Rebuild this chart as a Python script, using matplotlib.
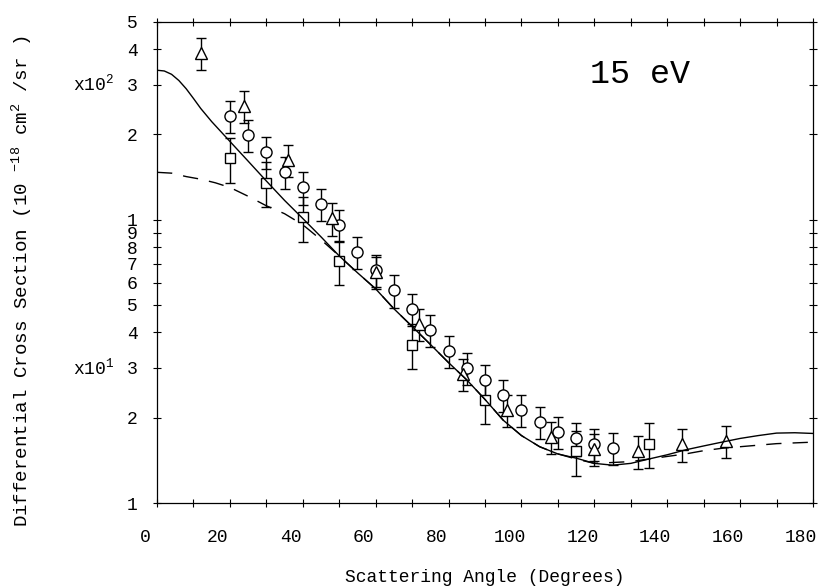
import numpy as np
import matplotlib
matplotlib.use('Agg')
import matplotlib.pyplot as plt
import matplotlib.transforms as mtransforms

plt.rcParams['font.family'] = ['Liberation Mono', 'DejaVu Sans Mono']
plt.rcParams['mathtext.fontset'] = 'custom'
plt.rcParams['mathtext.rm'] = 'Liberation Mono'
plt.rcParams['mathtext.it'] = 'Liberation Mono'
plt.rcParams['mathtext.default'] = 'regular'

# ---- data (units of 10^-18 cm^2/sr) ----
circle_angle = [20, 25, 30, 35, 40, 45, 50, 55, 60, 65, 70, 75, 80, 85, 90, 95, 100, 105, 110, 115, 120, 125]
circle_dcs = [233, 199, 174, 147, 130, 114, 96, 77, 66.5, 56.3, 48.3, 40.7, 34.5, 30.0, 27.2, 24.0, 21.3, 19.3, 17.8, 16.9, 16.2, 15.6]
circle_relerr = [0.13] * len(circle_angle)

triangle_angle = [12, 24, 36, 48, 60, 72, 84, 96, 108, 120, 132, 144, 156]
triangle_dcs = [387, 252, 162, 101, 65.5, 43.0, 28.5, 21.3, 17.1, 15.5, 15.2, 16.1, 16.6]
triangle_relerr = [0.13] * len(triangle_angle)

square_angle = [20, 30, 40, 50, 70, 90, 115, 135]
square_dcs = [165, 135, 102, 71.5, 36.2, 23.1, 15.2, 16.2]
square_relerr = [0.18] * len(square_angle)

solid_angle = [0, 2, 4, 6, 8, 10, 12, 15, 20, 25, 30, 35, 40, 45, 50, 55, 60, 65, 70, 75, 80, 85, 90,
               95, 100, 105, 110, 115, 120, 125, 130, 135, 140, 145, 150, 155, 160, 165, 170, 175, 180]
solid_dcs = [337, 335, 326, 310, 290, 268, 247, 222, 189, 161, 137, 117, 101, 87, 74.5, 65, 57, 48.5, 42, 36.3,
             31.3, 27.2, 23.2, 19.6, 17.3, 15.8, 14.9, 14.4, 13.8, 13.6, 13.8, 14.3, 14.8, 15.4, 15.9, 16.4,
             16.9, 17.3, 17.65, 17.7, 17.6]

dashed_angle = [0, 4, 8, 12, 16, 20, 25, 30, 35, 40, 45, 50, 55, 60, 65, 70, 75, 80, 85, 90, 95, 100, 105,
                110, 115, 120, 125, 130, 135, 140, 145, 150, 155, 160, 165, 170, 175, 180]
dashed_dcs = [147, 146, 142, 139, 135, 130, 121, 112, 105, 96, 85, 74.5, 65, 57, 48.5, 42, 36.3, 31.3, 27.2,
              23.2, 19.6, 17.3, 15.8, 14.9, 14.3, 13.8, 13.9, 14.0, 14.3, 14.6, 14.9, 15.3, 15.6, 15.8, 16.0,
              16.2, 16.3, 16.4]

ytick_vals = [10, 20, 30, 40, 50, 60, 70, 80, 90, 100, 200, 300, 400, 500]
ytick_labels = ['1', '2', '3', '4', '5', '6', '7', '8', '9', '1', '2', '3', '4', '5']
xtick_vals = list(range(0, 181, 10))
xtick_labels = [str(v) if v % 20 == 0 else '' for v in xtick_vals]

# ---- figure ----
fig = plt.figure(figsize=(8.30, 5.87), dpi=100)
ax = fig.add_axes([157 / 830, 1 - 503 / 587, (813 - 157) / 830, (503 - 21.7) / 587])

ax.set_yscale('log')
ax.set_xlim(0, 180)
ax.set_ylim(10, 500)

ax.plot(solid_angle, solid_dcs, color='black', lw=1.0, zorder=5)
ax.plot(dashed_angle, dashed_dcs, color='black', lw=1.0, ls=(0, (11, 8)), zorder=5)

def eb(xs, ys, rel, marker, ms):
    ys = np.array(ys, dtype=float)
    err = ys * np.array(rel)
    ax.errorbar(xs, ys, yerr=err, fmt=marker, ms=ms, mfc='white', mec='black', mew=1.0,
                ecolor='black', elinewidth=1.0, capsize=3.3, capthick=1.0, zorder=3)

eb(circle_angle, circle_dcs, circle_relerr, 'o', 8)
eb(square_angle, square_dcs, square_relerr, 's', 7)
eb(triangle_angle, triangle_dcs, triangle_relerr, '^', 8)

ax.yaxis.set_major_locator(matplotlib.ticker.FixedLocator(ytick_vals))
ax.yaxis.set_major_formatter(matplotlib.ticker.FixedFormatter(ytick_labels))
ax.yaxis.set_minor_locator(matplotlib.ticker.NullLocator())
ax.set_xticks(xtick_vals)
ax.set_xticklabels(xtick_labels)

ax.tick_params(axis='both', which='major', direction='inout', length=6, width=0.8,
               top=True, right=True, labelsize=13)
ax.tick_params(axis='x', pad=16)
ax.tick_params(axis='y', pad=11)
for sp in ax.spines.values():
    sp.set_linewidth(0.9)

shift = mtransforms.ScaledTranslation(-12 / 100, 0, fig.dpi_scale_trans)
for lbl in ax.get_xticklabels():
    lbl.set_transform(lbl.get_transform() + shift)

# decade multipliers
trans = mtransforms.blended_transform_factory(fig.transFigure, ax.transData)
ax.text(73 / 830, 300, 'x10$^{2}$', transform=trans, ha='left', va='center', fontsize=13)
ax.text(73 / 830, 30, 'x10$^{1}$', transform=trans, ha='left', va='center', fontsize=13)

ax.text(0.736, 0.89, '15 eV', transform=ax.transAxes, ha='center', va='center', fontsize=24)

fig.text(22 / 830, 1 - 281 / 587, 'Differential Cross Section (10 $^{-18}$ cm$^{2}$ /sr )',
         rotation=90, ha='center', va='center', fontsize=13.8)
fig.text(485 / 830, 1 - 577 / 587, 'Scattering Angle (Degrees)', ha='center', va='center', fontsize=13)

fig.savefig('out.png', dpi=100)
